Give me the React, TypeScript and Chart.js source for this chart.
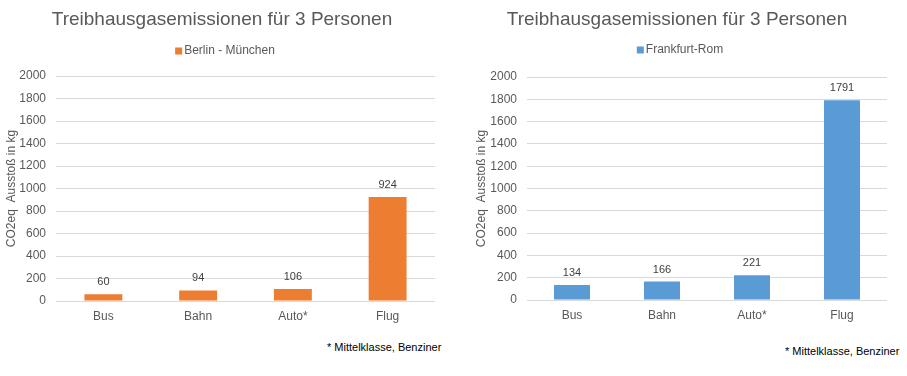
import React, { useEffect, useRef } from "react";
import { Chart, registerables } from "chart.js";

Chart.register(...registerables);

const categories = ["Bus", "Bahn", "Auto*", "Flug"];
const berlinMuenchen = [60, 94, 106, 924];
const frankfurtRom = [134, 166, 221, 1791];
const yTicks = [0, 200, 400, 600, 800, 1000, 1200, 1400, 1600, 1800, 2000];
const titleText = "Treibhausgasemissionen für 3 Personen";
const yTitle = "CO2eq  Ausstoß in kg";
const footnote = "* Mittelklasse, Benziner";

const FONT = "'Liberation Sans', Arial, sans-serif";
const GREY = "#595959";

const labelPlugin = {
  id: "barLabels",
  afterDatasetsDraw(chart: any) {
    const ctx = chart.ctx;
    ctx.save();
    ctx.font = `11px ${FONT}`;
    ctx.fillStyle = "#404040";
    ctx.textAlign = "center";
    ctx.textBaseline = "middle";
    chart.data.datasets.forEach((ds: any, i: number) => {
      const meta = chart.getDatasetMeta(i);
      meta.data.forEach((el: any, j: number) => {
        ctx.fillText(String(ds.data[j]), el.x, el.y - 12);
      });
    });
    ctx.restore();
  },
};

const headerPlugin = {
  id: "header",
  afterDraw(chart: any, _args: any, opts: any) {
    const ctx = chart.ctx;
    ctx.save();
    // title
    ctx.font = `19px ${FONT}`;
    ctx.fillStyle = GREY;
    ctx.textAlign = "center";
    ctx.textBaseline = "middle";
    ctx.fillText(titleText, opts.titleX, opts.titleY);
    // legend
    const label = chart.data.datasets[0].label;
    ctx.font = `12px ${FONT}`;
    const w = ctx.measureText(label).width;
    const box = 7;
    const gap = 2;
    const total = box + gap + w;
    const x0 = opts.legendX - total / 2;
    ctx.fillStyle = chart.data.datasets[0].backgroundColor;
    ctx.fillRect(x0, opts.legendY - box / 2, box, box);
    ctx.fillStyle = GREY;
    ctx.textAlign = "left";
    ctx.fillText(label, x0 + box + gap, opts.legendY);
    ctx.restore();
  },
};

function makeConfig(
  label: string,
  data: number[],
  color: string,
  padLeft: number,
  padRight: number,
  padTop: number,
  yWidth: number,
  xHeight: number,
  header: any
): any {
  return {
    type: "bar",
    data: {
      labels: categories,
      datasets: [
        {
          label,
          data,
          backgroundColor: color,
          borderWidth: 0,
          categoryPercentage: 1,
          barPercentage: 0.4,
        },
      ],
    },
    options: {
      responsive: false,
      animation: false,
      layout: { padding: { left: padLeft, right: padRight, top: padTop, bottom: 0 } },
      plugins: {
        title: { display: false },
        legend: { display: false },
        tooltip: { enabled: false },
        header,
      },
      scales: {
        x: {
          grid: { display: false, drawTicks: false },
          border: { display: false },
          ticks: { color: GREY, font: { family: FONT, size: 12 }, padding: 8 },
          afterFit(scale: any) {
            scale.height = xHeight;
          },
        },
        y: {
          min: 0,
          max: 2000,
          afterBuildTicks(scale: any) {
            scale.ticks = yTicks.map((v) => ({ value: v }));
          },
          grid: { color: "#D9D9D9", drawTicks: false, lineWidth: 1 },
          border: { display: false },
          ticks: {
            color: GREY,
            font: { family: FONT, size: 12 },
            padding: 10,
            callback: (v: any) => String(v),
          },
          title: {
            display: true,
            text: yTitle,
            color: GREY,
            font: { family: FONT, size: 12 },
            padding: { top: 4, bottom: 4 },
          },
          afterFit(scale: any) {
            scale.width = yWidth;
          },
        },
      },
    },
    plugins: [labelPlugin, headerPlugin],
  };
}

function ChartCanvas(props: { config: any; left: number; width: number; height: number }) {
  const ref = useRef<HTMLCanvasElement>(null);
  useEffect(() => {
    if (!ref.current) return;
    const chart = new Chart(ref.current, props.config);
    return () => chart.destroy();
  }, []);
  return (
    <canvas
      ref={ref}
      width={props.width}
      height={props.height}
      style={{ position: "absolute", left: props.left, top: 0, width: props.width, height: props.height }}
    />
  );
}

export default function App() {
  const leftCfg = makeConfig("Berlin - München", berlinMuenchen, "#ED7D31", 0, 15, 76, 56, 29, {
    titleX: 222,
    titleY: 20,
    legendX: 225,
    legendY: 51,
  });
  const rightCfg = makeConfig("Frankfurt-Rom", frankfurtRom, "#5B9BD5", 10, 20, 77, 57, 30, {
    titleX: 217,
    titleY: 20,
    legendX: 220,
    legendY: 50,
  });
  const noteStyle: any = {
    position: "absolute",
    fontFamily: FONT,
    fontSize: 11,
    color: "#000",
    whiteSpace: "nowrap",
  };
  return (
    <div style={{ position: "fixed", left: 0, top: 0, width: 907, height: 376, background: "#fff" }}>
      <ChartCanvas config={leftCfg} left={0} width={450} height={330} />
      <ChartCanvas config={rightCfg} left={460} width={447} height={330} />
      <div style={{ ...noteStyle, left: 327, top: 341 }}>{footnote}</div>
      <div style={{ ...noteStyle, left: 785, top: 345 }}>{footnote}</div>
    </div>
  );
}
